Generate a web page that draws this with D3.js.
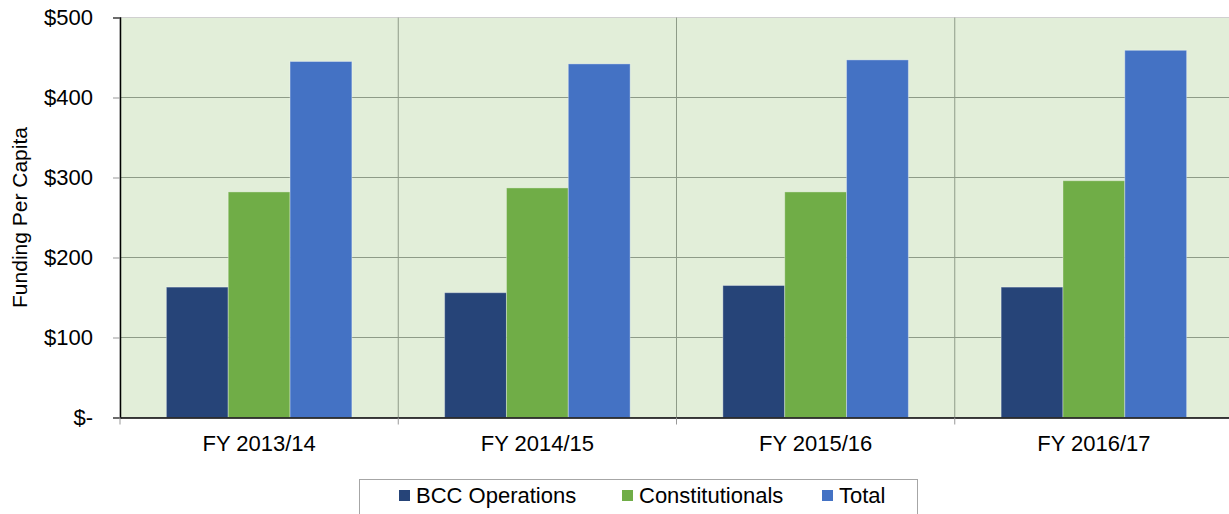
<html>
<head>
  <script src="https://d3js.org/d3.v7.min.js"></script>
  <style>
  body { margin: 0; background: #fff; }
  text { font-family: "Liberation Sans", Arial, Helvetica, sans-serif; fill: #000; }
  </style>
</head>
<body>
<div id="chart"></div>
<script>
  var categories = ["FY 2013/14", "FY 2014/15", "FY 2015/16", "FY 2016/17"];
  var seriesNames = ["BCC Operations", "Constitutionals", "Total"];
  var bccOps = [163, 156, 165, 163];
  var constitutionals = [282, 287, 282, 296];
  var totals = [445, 442, 447, 459];
  var yTicks = [0, 100, 200, 300, 400, 500];
  var colors = ["#264478", "#70ad47", "#4472c4"];

  var W = 1229, H = 514;
  var plotL = 120, plotR = 1233, plotT = 17.5, plotB = 417.5;
  var fs = 22;

  var svg = d3.select("#chart").append("svg").attr("width", W).attr("height", H);

  var x = d3.scaleBand().domain(categories).range([plotL, plotR]).paddingInner(0).paddingOuter(0);
  var xIn = d3.scaleBand().domain(seriesNames).range([0, x.bandwidth()]).paddingOuter(0.75).paddingInner(0);
  var y = d3.scaleLinear().domain([0, 500]).range([plotB, plotT]);

  // plot background
  svg.append("rect").attr("x", plotL).attr("y", plotT).attr("width", plotR - plotL).attr("height", plotB - plotT)
    .attr("fill", "#e2eed9").attr("stroke", "#d0d0d0").attr("stroke-width", 1);

  // horizontal grid
  svg.selectAll("line.hgrid").data(yTicks.slice(1, -1)).enter().append("line").attr("class", "hgrid")
    .attr("x1", plotL).attr("x2", plotR).attr("y1", function(d){ return y(d); }).attr("y2", function(d){ return y(d); })
    .attr("stroke", "#8e9b88").attr("stroke-width", 1);

  // vertical grid at category boundaries
  svg.selectAll("line.vgrid").data(categories.slice(1)).enter().append("line").attr("class", "vgrid")
    .attr("x1", function(d){ return x(d); }).attr("x2", function(d){ return x(d); })
    .attr("y1", plotT).attr("y2", plotB)
    .attr("stroke", "#8e9b88").attr("stroke-width", 1);

  // bars
  var series = [bccOps, constitutionals, totals];
  categories.forEach(function(c, i){
    seriesNames.forEach(function(s, j){
      svg.append("rect")
        .attr("x", x(c) + xIn(s)).attr("y", y(series[j][i]))
        .attr("width", xIn.bandwidth()).attr("height", plotB - y(series[j][i]))
        .attr("fill", colors[j])
        .attr("stroke", "rgba(255,255,255,0.35)").attr("stroke-width", 1);
    });
  });

  // y axis
  var yAxis = svg.append("g").attr("transform", "translate(" + plotL + ",0)")
    .call(d3.axisLeft(y).tickValues(yTicks).tickSize(7).tickPadding(20)
      .tickFormat(function(d){ return d === 0 ? "$-" : "$" + d; }));
  yAxis.select(".domain").attr("stroke", "#000").attr("stroke-width", 1.5);
  yAxis.selectAll(".tick line").attr("stroke", "#999");
  yAxis.selectAll("text").attr("font-size", fs).attr("font-family", "Liberation Sans, Arial, sans-serif");

  // x axis
  var xAxis = svg.append("g").attr("transform", "translate(0," + plotB + ")")
    .call(d3.axisBottom(x).tickSize(0).tickPadding(18));
  xAxis.select(".domain").attr("stroke", "#000").attr("stroke-width", 1.5);
  xAxis.selectAll("text").attr("font-size", fs).attr("font-family", "Liberation Sans, Arial, sans-serif");
  svg.selectAll("line.xtick").data(categories.concat(["end"])).enter().append("line").attr("class", "xtick")
    .attr("x1", function(d){ return d === "end" ? plotR : x(d); })
    .attr("x2", function(d){ return d === "end" ? plotR : x(d); })
    .attr("y1", plotB).attr("y2", plotB + 7).attr("stroke", "#999");

  // axis title
  svg.append("text").attr("transform", "translate(27," + ((plotT + plotB) / 2) + ") rotate(-90)")
    .attr("text-anchor", "middle").attr("font-size", 21).text("Funding Per Capita");

  // legend
  var lg = svg.append("g");
  lg.append("rect").attr("x", 359.5).attr("y", 479.5).attr("width", 558).attr("height", 40)
    .attr("fill", "#fff").attr("stroke", "#a6a6a6");
  var legX = [399, 622, 822];
  seriesNames.forEach(function(s, j){
    lg.append("rect").attr("x", legX[j]).attr("y", 490).attr("width", 11).attr("height", 11).attr("fill", colors[j]);
    lg.append("text").attr("x", legX[j] + 17).attr("y", 503).attr("font-size", fs).text(s);
  });
</script>
</body>
</html>
